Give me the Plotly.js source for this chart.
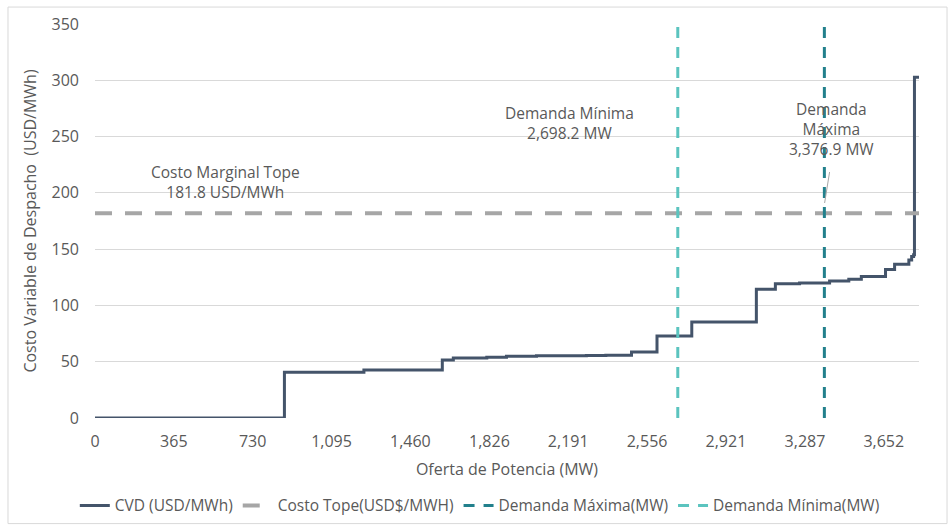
<!DOCTYPE html>
<html>
<head>
<meta charset="utf-8">
<script src="https://cdn.plot.ly/plotly-3.0.1.min.js"></script>
<style>html,body{margin:0;padding:0;background:#fff;}#chart{width:951px;height:526px;}</style>
</head>
<body>
<div id="chart"></div>
<script>
// Supply curve (step) : cumulative MW offer and variable dispatch cost
const ofertaMW = [0, 877, 1245, 1608, 1659, 1814, 1905, 2044, 2275, 2365, 2484, 2602, 2763, 3062, 3150, 3262, 3401, 3490, 3548, 3660, 3702, 3768, 3781, 3790, 3794, 3815];
const cvd      = [0, 40.6, 42.6, 51.5, 53.3, 54.0, 54.8, 55.3, 55.5, 55.7, 58.6, 72.8, 85.2, 114.3, 119.3, 119.9, 121.7, 123.2, 125.7, 132.0, 136.5, 140.4, 143.5, 145.0, 302.6, 302.6];
const costoTope = 181.8;
const demandaMinima = 2698.2;
const demandaMaxima = 3376.9;
const xTickLabels = ["0", "365", "730", "1,095", "1,460", "1,826", "2,191", "2,556", "2,921", "3,287", "3,652"];
const yTicks = [0, 50, 100, 150, 200, 250, 300, 350];

const xMax = 3815;
const yMax = 350;
const tickVals = xTickLabels.map(s => parseFloat(s.replace(/,/g, '')));

const FONT = "Open Sans, Lato, sans-serif";
const GRAY_TXT = "#595959";

const traces = [
  {
    x: ofertaMW, y: cvd, type: 'scatter', mode: 'lines',
    line: {shape: 'hv', color: '#44546A', width: 3},
    name: 'CVD (USD/MWh)'
  },
  {
    x: [0, xMax], y: [costoTope, costoTope], type: 'scatter', mode: 'lines',
    line: {color: '#A6A6A6', width: 4, dash: '17px,13px'},
    name: 'Costo Tope(USD$/MWH)'
  },
  {
    x: [demandaMaxima, demandaMaxima], y: [0, yMax], type: 'scatter', mode: 'lines',
    line: {color: '#22808C', width: 3, dash: '11px,9px'},
    name: 'Demanda Máxima(MW)'
  },
  {
    x: [demandaMinima, demandaMinima], y: [0, yMax], type: 'scatter', mode: 'lines',
    line: {color: '#5BC4BF', width: 3, dash: '11px,9px'},
    name: 'Demanda Mínima(MW)'
  }
];

const fmt = v => v.toLocaleString('en-US', {minimumFractionDigits: 1, maximumFractionDigits: 1});

const layout = {
  width: 951, height: 526,
  margin: {l: 95, r: 32, t: 24, b: 108, autoexpand: false},
  paper_bgcolor: '#fff', plot_bgcolor: '#fff',
  font: {family: FONT, color: GRAY_TXT, size: 15},
  showlegend: true,
  legend: {
    orientation: 'h', x: 0.467, xanchor: 'center', y: -0.223, yanchor: 'middle',
    font: {family: FONT, size: 15.5, color: GRAY_TXT},
    itemwidth: 30, tracegroupgap: 0
  },
  xaxis: {
    range: [0, xMax], tickvals: tickVals, ticktext: xTickLabels,
    showgrid: false, zeroline: false, showline: false, ticks: '', automargin: false,
    ticklabelstandoff: 12,
    tickfont: {family: FONT, size: 16, color: GRAY_TXT},
    title: {text: 'Oferta de Potencia (MW)', font: {family: FONT, size: 16, color: GRAY_TXT}, standoff: 12}
  },
  yaxis: {
    range: [0, yMax], tickvals: yTicks,
    showgrid: true, gridcolor: '#D9D9D9', gridwidth: 1, zeroline: false, showline: false, ticks: '',
    automargin: false, ticklabelstandoff: 15,
    tickfont: {family: FONT, size: 16, color: GRAY_TXT},
    title: {text: 'Costo Variable de Despacho  (USD/MWh)', font: {family: FONT, size: 16, color: GRAY_TXT}, standoff: 10}
  },
  annotations: [
    {x: 606, y: 210, xref: 'x', yref: 'y', showarrow: false,
     text: 'Costo Marginal Tope<br>' + fmt(costoTope) + ' USD/MWh', font: {family: FONT, size: 15.5, color: GRAY_TXT}},
    {x: 2198, y: 262, xref: 'x', yref: 'y', showarrow: false,
     text: 'Demanda Mínima<br>' + fmt(demandaMinima) + ' MW', font: {family: FONT, size: 15.5, color: GRAY_TXT}},
    {x: 3410, y: 257, xref: 'x', yref: 'y', showarrow: false,
     text: 'Demanda<br>Máxima<br>' + fmt(demandaMaxima) + ' MW', font: {family: FONT, size: 15.5, color: GRAY_TXT}}
  ],
  shapes: [
    {type: 'line', xref: 'x', yref: 'y', x0: 3401, y0: 218.5, x1: 3378, y1: 191,
     line: {color: '#A6A6A6', width: 1}},
    {type: 'rect', xref: 'paper', yref: 'paper', x0: -0.1056, x1: 1.034, y0: -0.268, y1: 1.043,
     line: {color: '#D9D9D9', width: 1}, layer: 'below'}
  ]
};

Plotly.newPlot('chart', traces, layout, {displayModeBar: false, staticPlot: true});
</script>
</body>
</html>
